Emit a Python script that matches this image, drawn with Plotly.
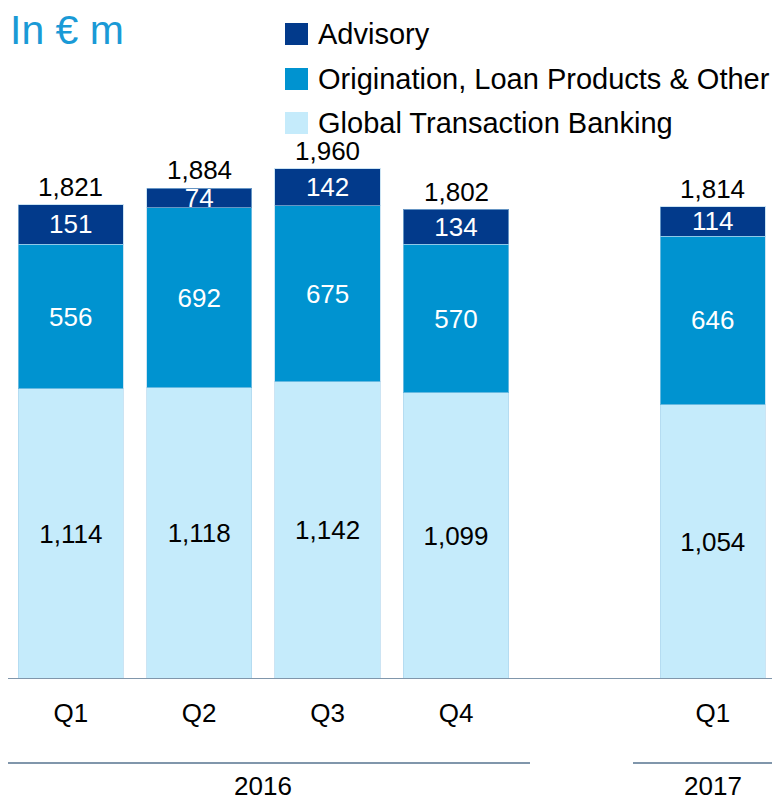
import plotly.graph_objects as go

categories = ["Q1", "Q2", "Q3", "Q4", "Q1"]
positions = [0, 1, 2, 3, 5]
years = ["2016", "2017"]
year_centers = [1.5, 5]
gtb = [1114, 1118, 1142, 1099, 1054]
origination = [556, 692, 675, 570, 646]
advisory = [151, 74, 142, 134, 114]
totals = [1821, 1884, 1960, 1802, 1814]
series_names = ["Advisory", "Origination, Loan Products & Other", "Global Transaction Banking"]

C_ADV = "#023a8b"
C_ORI = "#0093d0"
C_GTB = "#c5ebfb"
LINE_C = "#8096ab"
FONT = "Liberation Sans, Arial, sans-serif"

# page is offset by the 8px body margin; work in page coordinates
OFF = 8
PLOT_LEFT = 8      # page px
PLOT_W = 769
PLOT_TOP = 54      # page px
PLOT_H = 625


def px_x(p):
    return (p - PLOT_LEFT) / PLOT_W


def px_y(p):
    return 1 + (PLOT_TOP - p) / PLOT_H


def fmt(v):
    return f"{v:,}"


fig = go.Figure()
for vals, color, name, tcol in [
    (gtb, C_GTB, series_names[2], "black"),
    (origination, C_ORI, series_names[1], "white"),
    (advisory, C_ADV, series_names[0], "white"),
]:
    fig.add_trace(go.Bar(
        x=positions, y=vals, name=name,
        marker=dict(color=color, line=dict(color="rgba(170,210,235,0.6)", width=1)),
        width=0.82,
        text=[fmt(v) for v in vals],
        textposition="inside", insidetextanchor="middle",
        textangle=0,
        constraintext="none",
        textfont=dict(color=tcol, size=26, family=FONT),
        showlegend=False,
        hoverinfo="skip",
    ))

annotations = []
for p, t in zip(positions, totals):
    annotations.append(dict(x=p, y=t, xref="x", yref="y", text=fmt(t), showarrow=False,
                            yanchor="bottom", yshift=1,
                            font=dict(size=26, color="black", family=FONT)))

for yr, xc in zip(years, year_centers):
    annotations.append(dict(x=xc, y=px_y(786), xref="x", yref="paper", text=yr, showarrow=False,
                            yanchor="middle", font=dict(size=26, color="black", family=FONT)))

shapes = []
# axis baseline
shapes.append(dict(type="line", xref="paper", yref="y", x0=px_x(5), x1=px_x(779), y0=0, y1=0,
                   line=dict(color=LINE_C, width=2)))
# Year separator lines
shapes.append(dict(type="line", xref="paper", yref="paper", x0=px_x(5), x1=px_x(530),
                   y0=px_y(763), y1=px_y(763), line=dict(color=LINE_C, width=2)))
shapes.append(dict(type="line", xref="paper", yref="paper", x0=px_x(633), x1=px_x(779),
                   y0=px_y(763), y1=px_y(763), line=dict(color=LINE_C, width=2)))

# Custom legend
leg_items = [(series_names[0], C_ADV, 34), (series_names[1], C_ORI, 79), (series_names[2], C_GTB, 123)]
for name, color, yc in leg_items:
    shapes.append(dict(type="rect", xref="paper", yref="paper",
                       x0=px_x(285), x1=px_x(308), y0=px_y(yc + 11), y1=px_y(yc - 11),
                       fillcolor=color, line=dict(width=0)))
    annotations.append(dict(x=px_x(316), y=px_y(yc), xref="paper", yref="paper",
                            text=name, showarrow=False, xanchor="left", yanchor="middle",
                            font=dict(size=29, color="black", family=FONT)))

fig.update_layout(
    width=780 - OFF, height=800 - OFF,
    margin=dict(l=0, r=3, t=PLOT_TOP - OFF, b=800 - 679, pad=0),
    paper_bgcolor="white", plot_bgcolor="white",
    barmode="stack",
    title=dict(text="In € m", x=2 / 772, xref="container", xanchor="left",
               y=1 - 22 / 792, yref="container", yanchor="middle",
               font=dict(size=41, color="#1a9ad6", family=FONT)),
    xaxis=dict(range=[5.5 - PLOT_W / 128.4, 5.5], tickvals=positions, ticktext=categories,
               showline=False,
               ticks="outside", ticklen=11, tickcolor="rgba(0,0,0,0)",
               tickfont=dict(size=26, color="black", family=FONT),
               showgrid=False, zeroline=False, fixedrange=True),
    yaxis=dict(range=[0, 2400], visible=False, showgrid=False, zeroline=False),
    annotations=annotations,
    shapes=shapes,
)

fig.write_html("out.html")
